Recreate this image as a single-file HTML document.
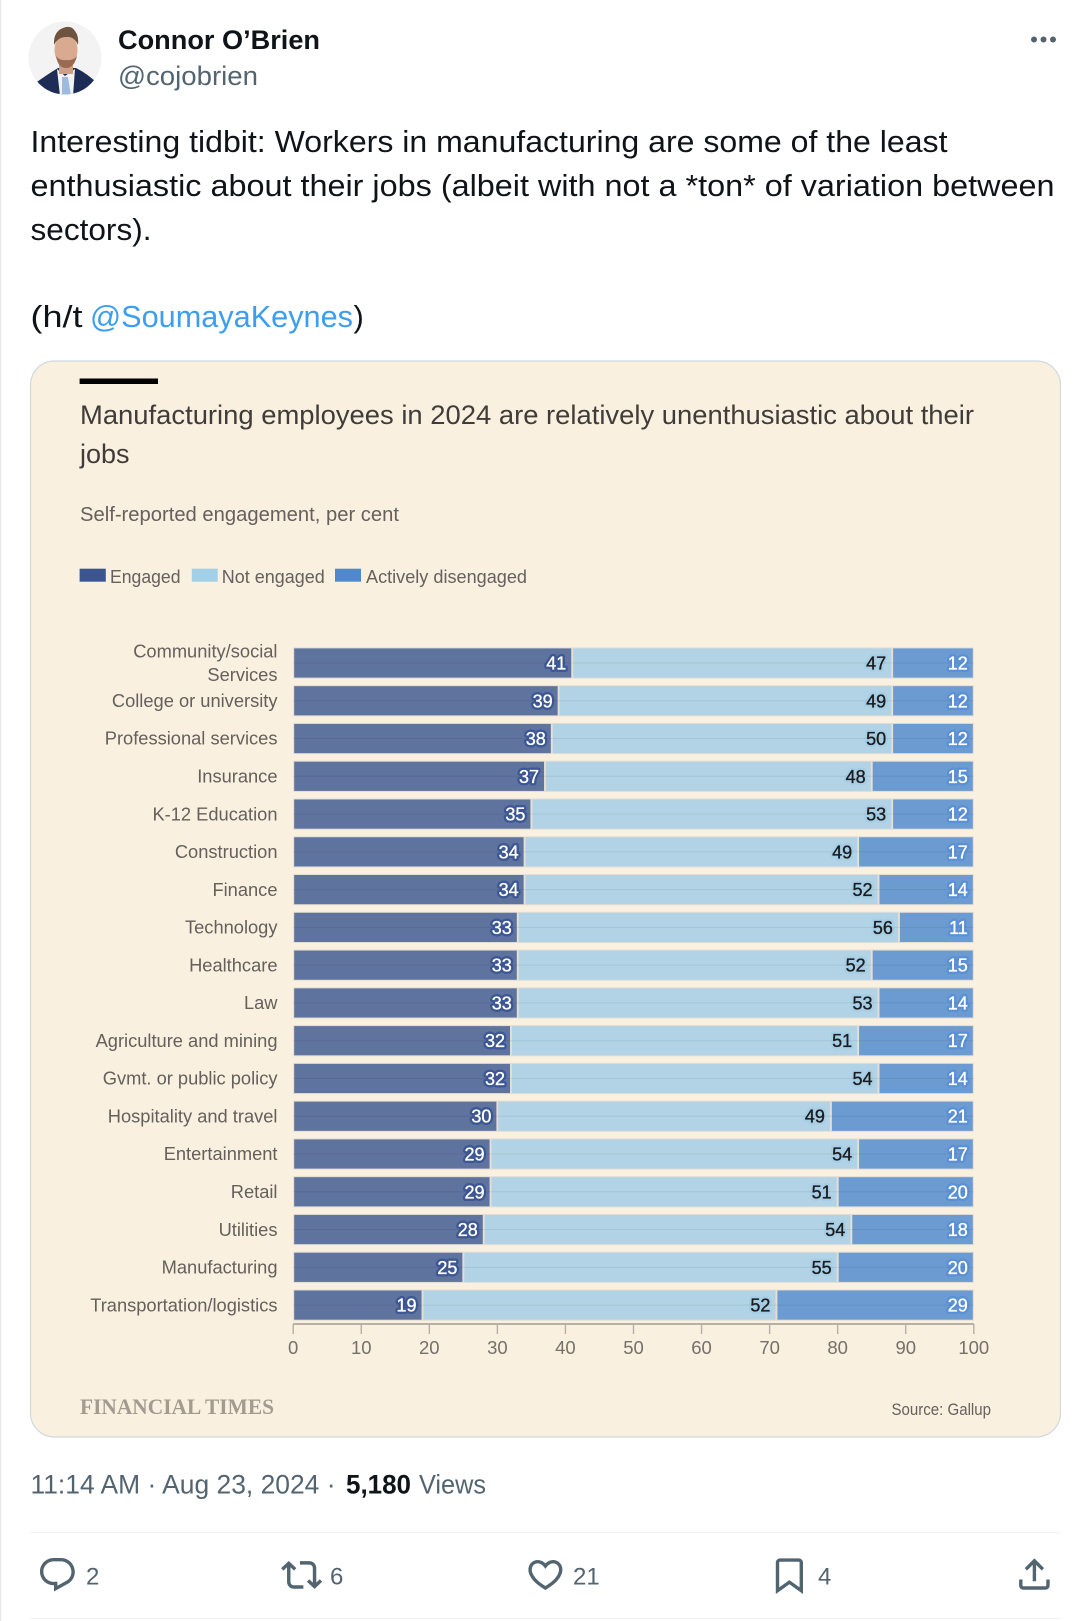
<!DOCTYPE html>
<html lang="en">
<head>
<meta charset="utf-8">
<title>Connor O'Brien tweet: manufacturing engagement chart</title>
<style>
html,body{margin:0;padding:0;background:#fff;width:1089px;height:1621px;overflow:hidden}
svg{display:block;font-family:"Liberation Sans",Arial,sans-serif}
</style>
</head>
<body>
<svg id="page" xmlns="http://www.w3.org/2000/svg" width="1089" height="1621" viewBox="0 0 1089 1621">
  <rect width="1089" height="1621" fill="#fff"/>
  <rect x="0" y="0" width="1.2" height="1621" fill="#e8e8e8"/>

  <g>
    <clipPath id="av"><circle cx="65" cy="58" r="36.5"/></clipPath>
    <g clip-path="url(#av)">
      <rect x="28" y="21" width="74" height="74" fill="#f3f3f3"/>
      <path d="M34 84 Q48 74 58 68 L76 68 Q88 74 98 84 L92 98 L40 98 Z" fill="#1d2d55"/>
      <path d="M57 69 L65 76 L75 69 L73 96 L60 96 Z" fill="#f2f3f6"/>
      <path d="M62 77 L68 77 L71 96 L62 96 Z" fill="#9dbbdc"/>
      <rect x="59" y="58" width="14" height="16" fill="#cf9f86"/>
      <ellipse cx="66" cy="50" rx="11.5" ry="15.5" fill="#d9aa90"/>
      <path d="M56 56 Q58 68 66 68 Q74 68 77 56 Q73 61 66 60 Q60 61 56 56 Z" fill="#9a6a52"/>
      <path d="M54 45 Q53 30 66 27 Q72 26 75 31 Q79 36 78 45 Q74 36 66 37 Q58 37 54 45 Z" fill="#6e5340"/>
    </g>
  </g>
  <text x="118" y="49" font-size="27" font-weight="700" fill="#0f1419" textLength="202" lengthAdjust="spacingAndGlyphs">Connor O’Brien</text>
  <text x="118" y="85" font-size="27" fill="#536471" textLength="140" lengthAdjust="spacingAndGlyphs">@cojobrien</text>
  <g fill="#536471">
    <circle cx="1034" cy="39.5" r="3"/><circle cx="1043.5" cy="39.5" r="3"/><circle cx="1053" cy="39.5" r="3"/>
  </g>

  <g font-size="31" fill="#0f1419">
    <text x="30.5" y="152" textLength="917" lengthAdjust="spacingAndGlyphs">Interesting tidbit: Workers in manufacturing are some of the least</text>
    <text x="30.5" y="196" textLength="1024" lengthAdjust="spacingAndGlyphs">enthusiastic about their jobs (albeit with not a *ton* of variation between</text>
    <text x="30.5" y="240" textLength="121" lengthAdjust="spacingAndGlyphs">sectors).</text>
    <text x="30.5" y="327" textLength="52" lengthAdjust="spacingAndGlyphs">(h/t</text>
    <text x="90" y="327" fill="#3d9ef0" textLength="263" lengthAdjust="spacingAndGlyphs">@SoumayaKeynes</text>
    <text x="353.5" y="327">)</text>
  </g>

  <rect x="30.5" y="361" width="1030" height="1076" rx="24" ry="24" fill="#f9f0e0" stroke="#cfd9de" stroke-width="1.2"/>
  <g id="chart" style="filter:blur(0.35px)">
    <rect x="79.6" y="378.5" width="78.4" height="5.5" fill="#000"/>
    <text x="80" y="424" font-size="27" fill="#3f3c3a" textLength="894" lengthAdjust="spacingAndGlyphs">Manufacturing employees in 2024 are relatively unenthusiastic about their</text>
    <text x="80" y="463" font-size="27" fill="#3f3c3a">jobs</text>
    <text x="80" y="521" font-size="20" fill="#66605e" textLength="319" lengthAdjust="spacingAndGlyphs">Self-reported engagement, per cent</text>
    <g font-size="18.5" fill="#66605e">
      <rect x="79.6" y="568.7" width="26.2" height="13" fill="#3c5590"/>
      <text x="110" y="583" textLength="70.5" lengthAdjust="spacingAndGlyphs">Engaged</text>
      <rect x="191.8" y="568.7" width="25.9" height="13" fill="#a3d0e6"/>
      <text x="221.8" y="583" textLength="103" lengthAdjust="spacingAndGlyphs">Not engaged</text>
      <rect x="335" y="568.7" width="26" height="13" fill="#5088cc"/>
      <text x="366" y="583" textLength="161" lengthAdjust="spacingAndGlyphs">Actively disengaged</text>
    </g>
    <g id="plot"></g>
    <text x="80" y="1414" font-family="'Liberation Serif',serif" font-size="22" font-weight="700" fill="#a39a90" textLength="194" lengthAdjust="spacingAndGlyphs">FINANCIAL TIMES</text>
    <text x="891.5" y="1415" font-size="16.5" fill="#66605e" textLength="99.5" lengthAdjust="spacingAndGlyphs">Source: Gallup</text>
  </g>

  <g font-size="27" fill="#536471">
    <text x="30.5" y="1493.5" textLength="305" lengthAdjust="spacingAndGlyphs">11:14 AM · Aug 23, 2024 ·</text>
    <text x="346" y="1493.5" font-weight="700" fill="#0f1419" textLength="65" lengthAdjust="spacingAndGlyphs">5,180</text>
    <text x="419" y="1493.5" textLength="67" lengthAdjust="spacingAndGlyphs">Views</text>
  </g>
  <rect x="30" y="1532" width="1031" height="1" fill="#eff3f4"/>
  <rect x="30" y="1618" width="1031" height="1" fill="#eff3f4"/>

  <g fill="#536471" font-size="24">
    <path transform="translate(37 1554.6) scale(1.7)" d="M1.751 10c0-4.42 3.584-8 8.005-8h4.366c4.49 0 8.129 3.64 8.129 8.13 0 2.96-1.607 5.68-4.196 7.11l-8.054 4.46v-3.69h-.067c-4.49.1-8.183-3.51-8.183-8.01zm8.005-6c-3.317 0-6.005 2.69-6.005 6 0 3.37 2.77 6.08 6.138 6.01l.351-.01h1.761v2.3l5.087-2.81c1.951-1.08 3.163-3.13 3.163-5.36 0-3.39-2.744-6.13-6.129-6.13H9.756z"/>
    <text x="86" y="1584.5">2</text>
    <path transform="translate(281 1554.3) scale(1.72)" d="M4.5 3.88l4.432 4.14-1.364 1.46L5.5 7.55V16c0 1.1.896 2 2 2H13v2H7.5c-2.209 0-4-1.79-4-4V7.55L1.432 9.48.068 8.02 4.5 3.88zM16.5 6H11V4h5.5c2.209 0 4 1.79 4 4v8.45l2.068-1.93 1.364 1.46-4.432 4.14-4.432-4.14 1.364-1.46 2.068 1.93V8c0-1.1-.896-2-2-2z"/>
    <text x="330" y="1584.5">6</text>
    <path transform="translate(525 1554) scale(1.7)" d="M16.697 5.5c-1.222-.06-2.679.51-3.89 2.16l-.805 1.09-.806-1.09C9.984 6.01 8.526 5.44 7.304 5.5c-1.243.07-2.349.78-2.91 1.91-.552 1.12-.633 2.78.479 4.82 1.074 1.97 3.257 4.27 7.129 6.61 3.87-2.34 6.052-4.64 7.126-6.61 1.111-2.04 1.03-3.7.477-4.82-.561-1.13-1.666-1.84-2.908-1.91zm4.187 7.69c-1.351 2.48-4.001 5.12-8.379 7.67l-.503.3-.504-.3c-4.379-2.55-7.029-5.19-8.382-7.67-1.36-2.5-1.41-4.86-.514-6.67.887-1.79 2.647-2.91 4.601-3.01 1.651-.09 3.368.56 4.798 2.01 1.429-1.45 3.146-2.1 4.796-2.01 1.954.1 3.714 1.22 4.601 3.01.896 1.81.846 4.17-.514 6.67z"/>
    <text x="573" y="1584.5">21</text>
    <path transform="translate(769 1555) scale(1.7)" d="M4 4.5C4 3.12 5.119 2 6.5 2h11C18.881 2 20 3.12 20 4.5v18.44l-8-5.71-8 5.71V4.5zM6.5 4c-.276 0-.5.22-.5.5v14.56l6-4.29 6 4.29V4.5c0-.28-.224-.5-.5-.5h-11z"/>
    <text x="818" y="1584.5">4</text>
    <path transform="translate(1014 1554) scale(1.7)" d="M12 2.59l5.7 5.7-1.41 1.42L13 6.41V16h-2V6.41l-3.3 3.3-1.41-1.42L12 2.59zM21 15l-.02 3.51c0 1.38-1.12 2.49-2.5 2.49H5.5C4.11 21 3 19.88 3 18.5V15h2v3.5c0 .28.22.5.5.5h12.98c.28 0 .5-.22.5-.5L19 15h2z"/>
  </g>
</svg>
<script>
const categories = ["Community/social\nServices", "College or university", "Professional services", "Insurance", "K-12 Education", "Construction", "Finance", "Technology", "Healthcare", "Law", "Agriculture and mining", "Gvmt. or public policy", "Hospitality and travel", "Entertainment", "Retail", "Utilities", "Manufacturing", "Transportation/logistics"];
const engaged = [41, 39, 38, 37, 35, 34, 34, 33, 33, 33, 32, 32, 30, 29, 29, 28, 25, 19];
const notEngaged = [47, 49, 50, 48, 53, 49, 52, 56, 52, 53, 51, 54, 49, 54, 51, 54, 55, 52];
const activelyDisengaged = [12, 12, 12, 15, 12, 17, 14, 11, 15, 14, 17, 14, 21, 17, 20, 18, 20, 29];
const xTicks = [0, 10, 20, 30, 40, 50, 60, 70, 80, 90, 100];

const NS = 'http://www.w3.org/2000/svg';
const plot = document.getElementById('plot');
const xScale = v => 293.2 + v * 6.806;
const rowTop = i => 647.9 + i * 37.77;
const BAR_H = 30.2;

function mk(tag, attrs, parent, text) {
  const el = document.createElementNS(NS, tag);
  for (const k in attrs) el.setAttribute(k, attrs[k]);
  if (text !== undefined) el.textContent = text;
  (parent || plot).appendChild(el);
  return el;
}

const seriesList = [
  {key: 'engaged', values: engaged, fill: '#5f739f', halo: '#3c5793', ink: '#ffffff'},
  {key: 'not-engaged', values: notEngaged, fill: '#b2d3e5', halo: '#a6cee5', ink: '#1c1c1e'},
  {key: 'actively-disengaged', values: activelyDisengaged, fill: '#6c9bd1', halo: '#5a90d6', ink: '#ffffff'}
];

categories.forEach((name, i) => {
  const top = rowTop(i);
  const mid = top + BAR_H / 2;

  const lines = name.split('\n');
  lines.forEach((line, j) => {
    const label = mk('text', {
      x: 277.5,
      y: mid + 6.2 + (j - (lines.length - 1) / 2) * 23.4,
      'text-anchor': 'end',
      'font-size': 18.3,
      fill: '#66605c'
    }, plot, line);
    
    
  });

  let cumulative = 0;
  seriesList.forEach(series => {
    const value = series.values[i];
    const x0 = xScale(cumulative);
    const x1 = xScale(cumulative + value);
    cumulative += value;

    const bar = mk('rect', {
      x: x0 + 0.5,
      y: top,
      width: x1 - x0 - 1,
      height: BAR_H,
      fill: series.fill,
      stroke: '#e2ddd4',
      'stroke-width': 1
    });
    
    

    const halo = mk('text', {
      x: x1 - 6,
      y: mid + 6.5,
      'text-anchor': 'end',
      'font-size': 18,
      fill: series.halo,
      stroke: series.halo,
      'stroke-width': 5,
      'stroke-linejoin': 'round'
    }, plot, String(value));
    
    
  });

  const centre = mk('line', {
    x1: xScale(0),
    x2: xScale(100),
    y1: mid,
    y2: mid,
    stroke: '#000',
    'stroke-opacity': 0.07,
    'stroke-width': 1
  });
  
  

  cumulative = 0;
  seriesList.forEach(series => {
    const value = series.values[i];
    cumulative += value;
    const valueLabel = mk('text', {
      x: xScale(cumulative) - 6,
      y: mid + 6.5,
      'text-anchor': 'end',
      'font-size': 18,
      fill: series.ink,
      stroke: series.ink,
      'stroke-width': 0.35
    }, plot, String(value));
    
    
  });
});

const axisLine = mk('line', {
  x1: xScale(0),
  x2: xScale(100),
  y1: 1324,
  y2: 1324,
  stroke: '#a19a90',
  'stroke-width': 1.4
});



xTicks.forEach(t => {
  const tick = mk('line', {
    x1: xScale(t),
    x2: xScale(t),
    y1: 1324,
    y2: 1334,
    stroke: '#b5afa5',
    'stroke-width': 1.4
  });
  
  

  const tickLabel = mk('text', {
    x: xScale(t),
    y: 1354,
    'text-anchor': 'middle',
    'font-size': 18.5,
    fill: '#76706a'
  }, plot, String(t));
  
  
});
</script>
</body>
</html>
